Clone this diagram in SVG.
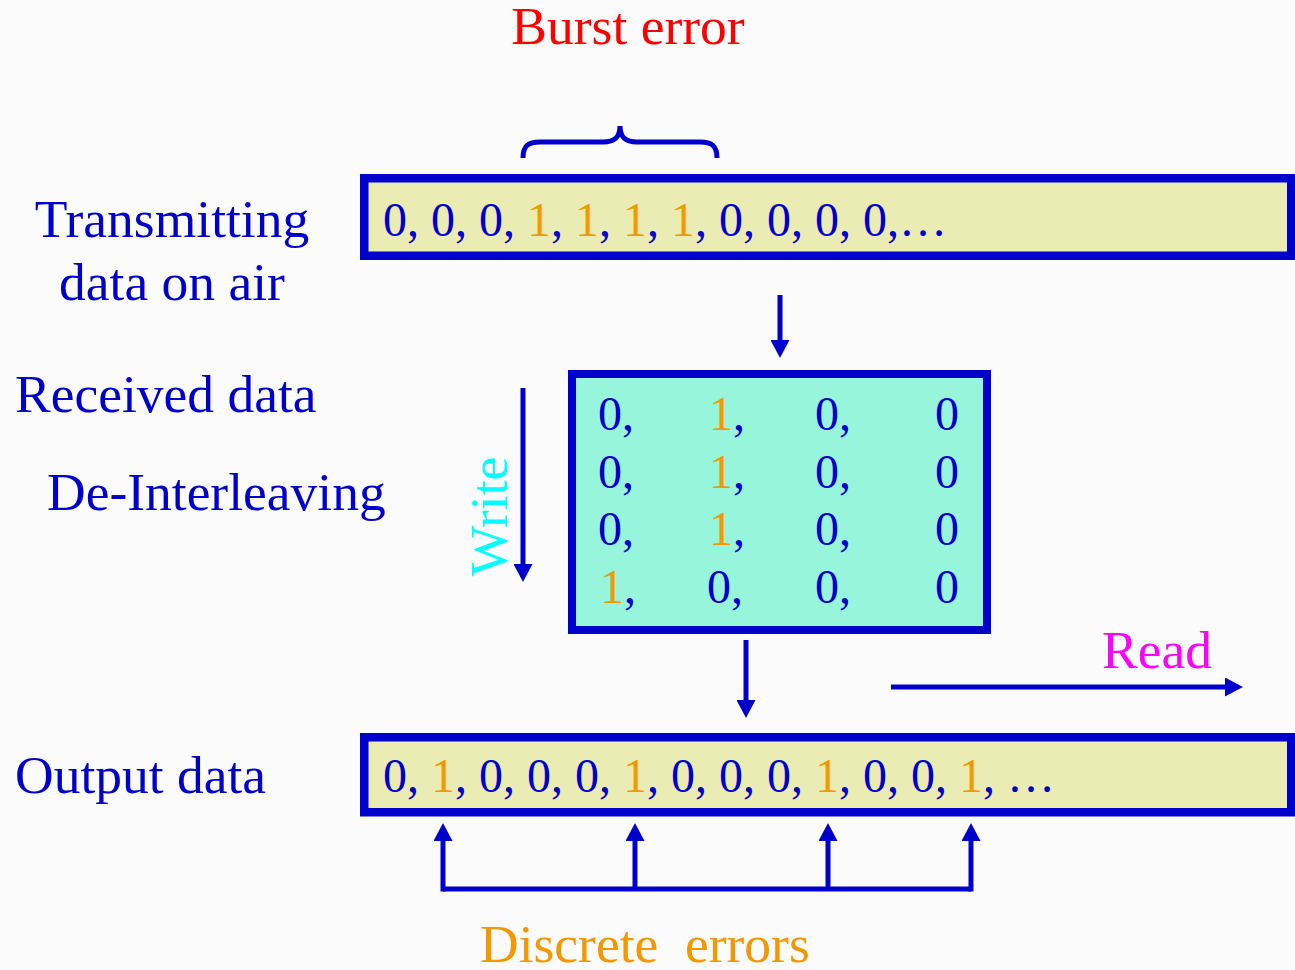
<svg xmlns="http://www.w3.org/2000/svg" width="1295" height="970" viewBox="0 0 1295 970">
  <defs>
    <style>
      .t { font-family: "Liberation Serif", "Times New Roman", serif; }
      .lbl { font-size: 53.5px; fill: #0000CC; }
      .dat { font-size: 48px; fill: #0000CC; }
      .hi { fill: #F39800; }
      .bar { fill: #EBEBB4; stroke: #0000CC; stroke-width: 8.5; }
      .mat { fill: #96F5DA; stroke: #0000CC; stroke-width: 8; }
      .wire { fill: none; stroke: #0000CC; stroke-width: 5; }
    </style>
    <marker id="head" viewBox="0 0 18 19" refX="8" refY="9.5" markerWidth="18" markerHeight="19" markerUnits="userSpaceOnUse" orient="auto">
      <path d="M0,0 L18,9.5 L0,19 Z" fill="#0000CC"/>
    </marker>
  </defs>

  <rect x="0" y="0" width="1295" height="970" fill="#FBFBFB"/>

  <!-- side labels -->
  <g id="label-tx" class="t lbl">
    <text x="172" y="237" text-anchor="middle">Transmitting</text>
    <text x="172" y="300" text-anchor="middle">data on air</text>
  </g>
  <g id="label-rx" class="t lbl"><text x="15" y="412">Received data</text></g>
  <g id="label-deint" class="t lbl"><text x="47" y="510">De-Interleaving</text></g>
  <g id="label-out" class="t lbl"><text x="15" y="793">Output data</text></g>

  <!-- burst error marker -->
  <g id="burst">
    <text class="t" x="628" y="44" text-anchor="middle" font-size="53.5" fill="#FF0000">Burst error</text>
    <path class="wire" d="M523,158 C523,146 528,142 540,142 L603,142 C614,142 620,138 620,126 C620,138 626,142 637,142 L700,142 C712,142 717,146 717,158"/>
  </g>

  <!-- transmitted stream -->
  <g id="tx-stream">
    <rect class="bar" x="364.25" y="178.25" width="927" height="77.5"/>
    <text class="t dat" x="383" y="236">0, 0, 0, <tspan class="hi">1</tspan>, <tspan class="hi">1</tspan>, <tspan class="hi">1</tspan>, <tspan class="hi">1</tspan>, 0, 0, 0, 0,…</text>
  </g>

  <!-- de-interleaving matrix -->
  <g id="matrix">
    <rect class="mat" x="572" y="374" width="415" height="256"/>
    <g class="t dat">
      <text x="598" y="430">0,</text><text x="709" y="430"><tspan class="hi">1</tspan>,</text><text x="815" y="430">0,</text><text x="935" y="430">0</text>
      <text x="598" y="487.5">0,</text><text x="709" y="487.5"><tspan class="hi">1</tspan>,</text><text x="815" y="487.5">0,</text><text x="935" y="487.5">0</text>
      <text x="598" y="545">0,</text><text x="709" y="545"><tspan class="hi">1</tspan>,</text><text x="815" y="545">0,</text><text x="935" y="545">0</text>
      <text x="600" y="602.5"><tspan class="hi">1</tspan>,</text><text x="707" y="602.5">0,</text><text x="815" y="602.5">0,</text><text x="935" y="602.5">0</text>
    </g>
  </g>

  <!-- write / read directions -->
  <g id="write">
    <text class="t" transform="translate(507,516.5) rotate(-90)" text-anchor="middle" font-size="53.5" fill="#00FFFF">Write</text>
  </g>
  <g id="read">
    <text class="t" x="1212" y="668" text-anchor="end" font-size="53.5" fill="#FF00FF">Read</text>
  </g>

  <!-- output stream -->
  <g id="out-stream">
    <rect class="bar" x="364.25" y="737.25" width="927" height="75"/>
    <text class="t dat" x="383" y="792">0, <tspan class="hi">1</tspan>, 0, 0, 0, <tspan class="hi">1</tspan>, 0, 0, 0, <tspan class="hi">1</tspan>, 0, 0, <tspan class="hi">1</tspan>, …</text>
  </g>

  <g id="discrete">
    <text class="t" x="480" y="962" font-size="53.5" fill="#F39800" xml:space="preserve">Discrete  errors</text>
  </g>

  <!-- connectors -->
  <g id="connectors" class="wire">
    <line x1="780" y1="295" x2="780" y2="348" marker-end="url(#head)"/>
    <line x1="523" y1="388" x2="523" y2="572" marker-end="url(#head)"/>
    <line x1="746" y1="640" x2="746" y2="708" marker-end="url(#head)"/>
    <line x1="891" y1="687" x2="1233" y2="687" marker-end="url(#head)"/>
    <path d="M443,889 L971,889"/>
    <line x1="443" y1="891.5" x2="443" y2="833" marker-end="url(#head)"/>
    <line x1="635" y1="889" x2="635" y2="833" marker-end="url(#head)"/>
    <line x1="828" y1="889" x2="828" y2="833" marker-end="url(#head)"/>
    <line x1="971" y1="891.5" x2="971" y2="833" marker-end="url(#head)"/>
  </g>
</svg>
